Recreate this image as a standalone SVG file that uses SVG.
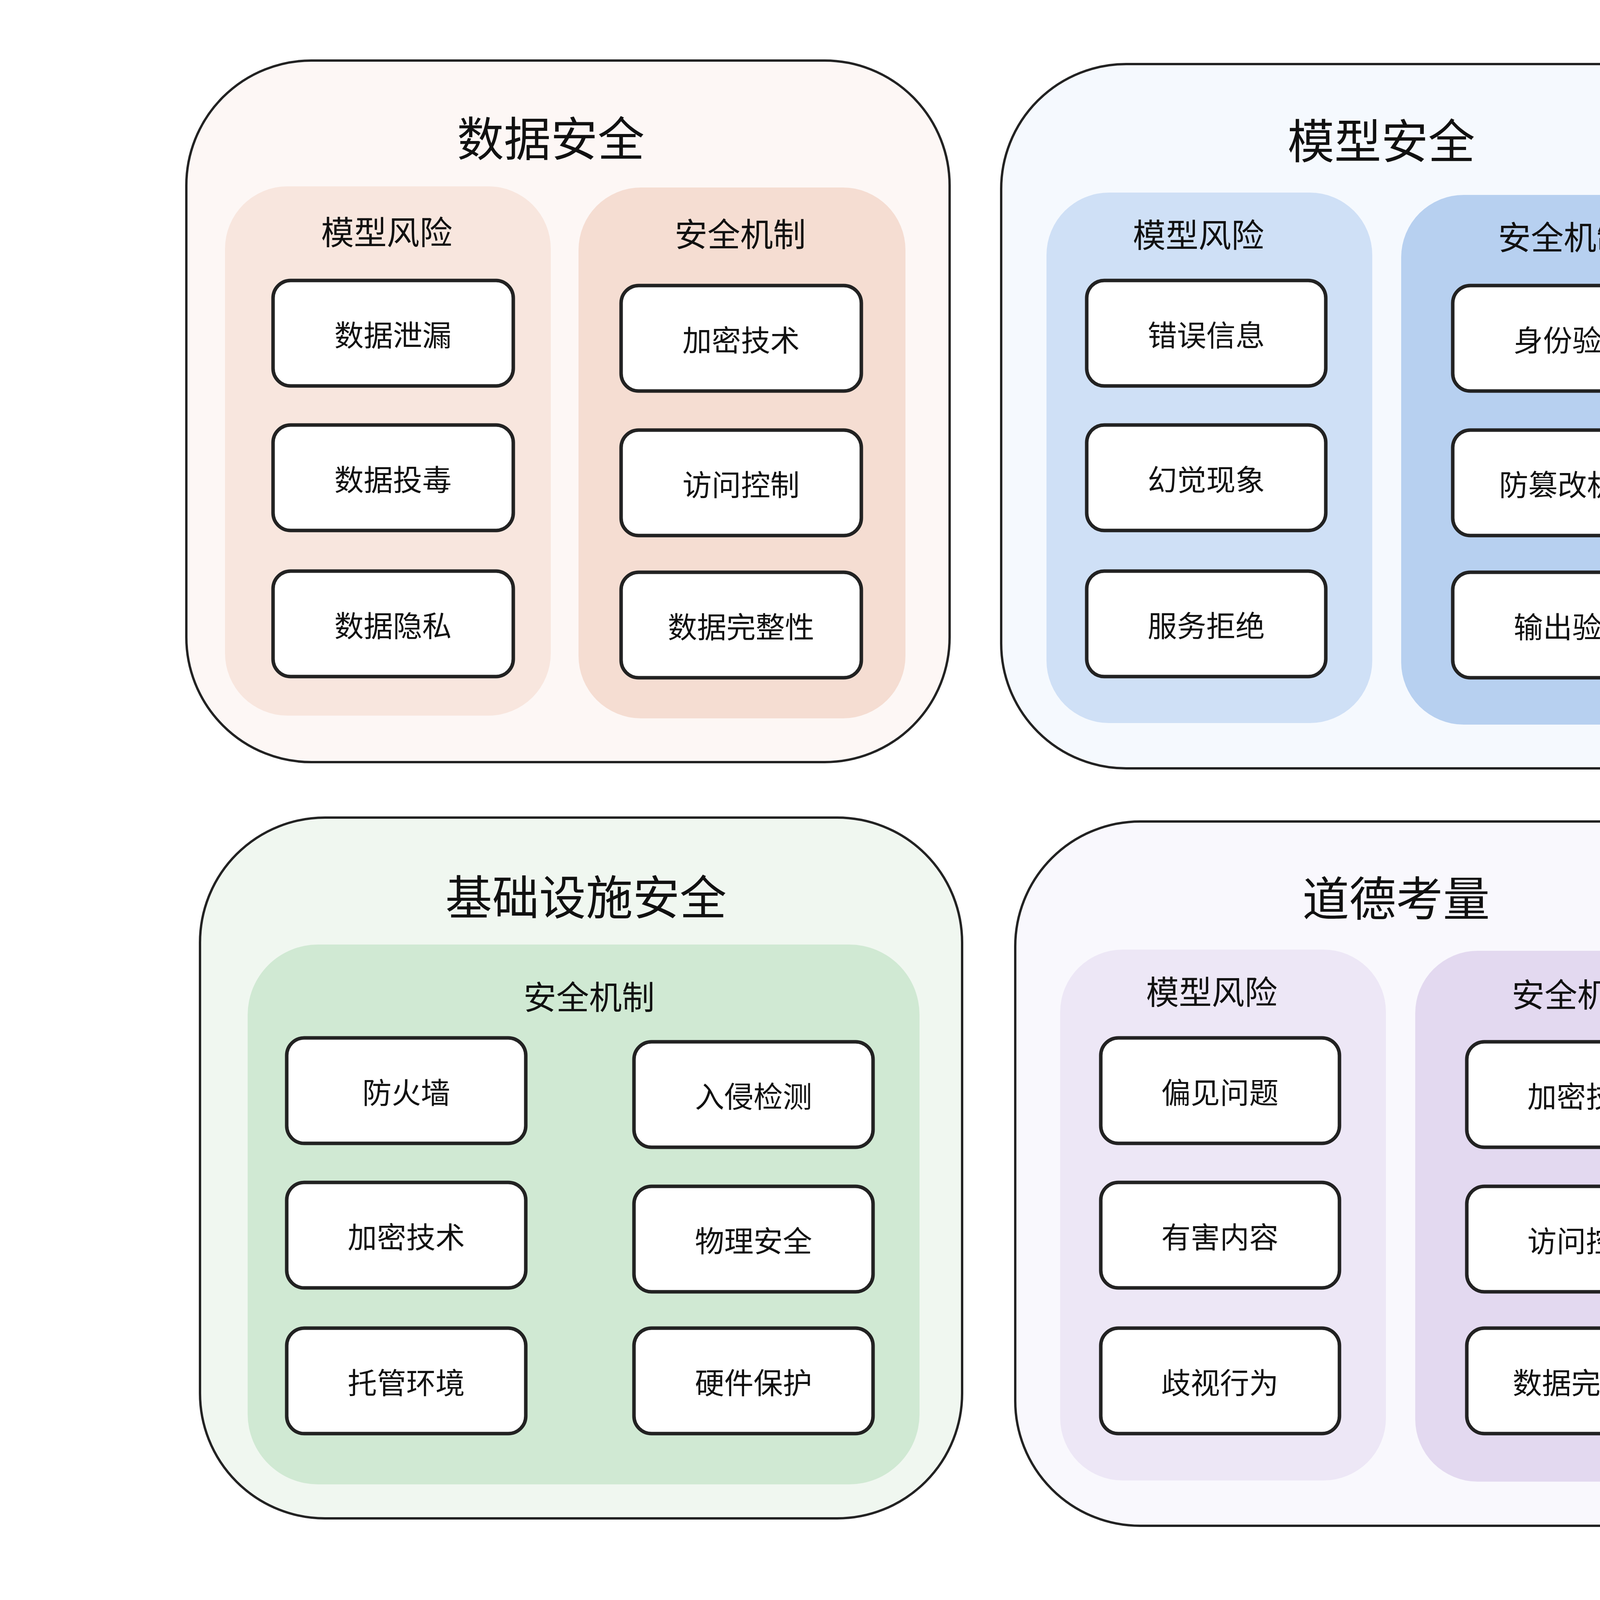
<svg xmlns="http://www.w3.org/2000/svg" width="4997" height="4215" viewBox="0 0 4997 4215">
<style>
.p{stroke:#222;stroke-width:6}
.n{fill:#fff;stroke:#222;stroke-width:9}
text{font-family:"Noto Sans CJK SC","Noto Sans",sans-serif;text-anchor:middle;dominant-baseline:central;fill:#111}
.t{font-size:120px}
.s{font-size:84px}
.l{font-size:75px}
</style>
<rect width="4997" height="4215" fill="#fff"/>
<g id="panel-data">
<rect class="p" x="477" y="155" width="1954" height="1796" rx="320" fill="#fdf7f5"/>
<text class="t" x="1410" y="348">数据安全</text>
<rect x="576" y="477" width="834" height="1355" rx="160" fill="#f8e6de"/>
<text class="s" x="990" y="589">模型风险</text>
<rect x="1481" y="480" width="837" height="1359" rx="160" fill="#f5ddd2"/>
<text class="s" x="1895" y="594">安全机制</text>
</g>
<g id="n1"><rect class="n" x="699" y="718" width="615" height="270" rx="45"/><text class="l" x="1006" y="853">数据泄漏</text></g>
<g id="n2"><rect class="n" x="699" y="1088" width="615" height="270" rx="45"/><text class="l" x="1006" y="1223">数据投毒</text></g>
<g id="n3"><rect class="n" x="699" y="1462" width="615" height="270" rx="45"/><text class="l" x="1006" y="1597">数据隐私</text></g>
<g id="n4"><rect class="n" x="1590" y="731" width="615" height="270" rx="45"/><text class="l" x="1897" y="866">加密技术</text></g>
<g id="n5"><rect class="n" x="1590" y="1101" width="615" height="270" rx="45"/><text class="l" x="1897" y="1236">访问控制</text></g>
<g id="n6"><rect class="n" x="1590" y="1465" width="615" height="270" rx="45"/><text class="l" x="1897" y="1600">数据完整性</text></g>

<g id="panel-model">
<rect class="p" x="2563" y="164" width="1951" height="1803" rx="320" fill="#f5f9fe"/>
<text class="t" x="3536" y="354">模型安全</text>
<rect x="2679" y="493" width="834" height="1358" rx="160" fill="#cfe0f6"/>
<text class="s" x="3068" y="596">模型风险</text>
<rect x="3587" y="499" width="834" height="1356" rx="160" fill="#b7d0f0"/>
<text class="s" x="4003" y="602">安全机制</text>
</g>
<g id="m1"><rect class="n" x="2782" y="718" width="612" height="270" rx="45"/><text class="l" x="3088" y="853">错误信息</text></g>
<g id="m2"><rect class="n" x="2782" y="1088" width="612" height="270" rx="45"/><text class="l" x="3088" y="1223">幻觉现象</text></g>
<g id="m3"><rect class="n" x="2782" y="1462" width="612" height="270" rx="45"/><text class="l" x="3088" y="1597">服务拒绝</text></g>
<g id="m4"><rect class="n" x="3719" y="731" width="612" height="270" rx="45"/><text class="l" x="4025" y="866">身份验证</text></g>
<g id="m5"><rect class="n" x="3719" y="1101" width="612" height="270" rx="45"/><text class="l" x="4025" y="1236">防篡改机制</text></g>
<g id="m6"><rect class="n" x="3719" y="1465" width="612" height="270" rx="45"/><text class="l" x="4025" y="1600">输出验证</text></g>

<g id="panel-infra">
<rect class="p" x="512" y="2093" width="1951" height="1794" rx="320" fill="#f0f7f0"/>
<text class="t" x="1500" y="2290">基础设施安全</text>
<rect x="634" y="2418" width="1720" height="1382" rx="180" fill="#d0e9d3"/>
<text class="s" x="1508" y="2547">安全机制</text>
</g>
<g id="i1"><rect class="n" x="734" y="2657" width="612" height="270" rx="45"/><text class="l" x="1040" y="2792">防火墙</text></g>
<g id="i2"><rect class="n" x="734" y="3027" width="612" height="270" rx="45"/><text class="l" x="1040" y="3162">加密技术</text></g>
<g id="i3"><rect class="n" x="734" y="3400" width="612" height="270" rx="45"/><text class="l" x="1040" y="3535">托管环境</text></g>
<g id="i4"><rect class="n" x="1623" y="2667" width="612" height="270" rx="45"/><text class="l" x="1929" y="2802">入侵检测</text></g>
<g id="i5"><rect class="n" x="1623" y="3037" width="612" height="270" rx="45"/><text class="l" x="1929" y="3172">物理安全</text></g>
<g id="i6"><rect class="n" x="1623" y="3400" width="612" height="270" rx="45"/><text class="l" x="1929" y="3535">硬件保护</text></g>

<g id="panel-ethics">
<rect class="p" x="2599" y="2103" width="1951" height="1803" rx="320" fill="#f9f8fd"/>
<text class="t" x="3574" y="2293">道德考量</text>
<rect x="2714" y="2431" width="834" height="1359" rx="160" fill="#ede7f6"/>
<text class="s" x="3102" y="2534">模型风险</text>
<rect x="3623" y="2434" width="833" height="1359" rx="160" fill="#e3d9f0"/>
<text class="s" x="4038" y="2541">安全机制</text>
</g>
<g id="e1"><rect class="n" x="2818" y="2657" width="611" height="270" rx="45"/><text class="l" x="3123" y="2792">偏见问题</text></g>
<g id="e2"><rect class="n" x="2818" y="3027" width="611" height="270" rx="45"/><text class="l" x="3123" y="3162">有害内容</text></g>
<g id="e3"><rect class="n" x="2818" y="3400" width="611" height="270" rx="45"/><text class="l" x="3123" y="3535">歧视行为</text></g>
<g id="e4"><rect class="n" x="3755" y="2667" width="611" height="270" rx="45"/><text class="l" x="4060" y="2802">加密技术</text></g>
<g id="e5"><rect class="n" x="3755" y="3037" width="611" height="270" rx="45"/><text class="l" x="4060" y="3172">访问控制</text></g>
<g id="e6"><rect class="n" x="3755" y="3400" width="611" height="270" rx="45"/><text class="l" x="4060" y="3535">数据完整性</text></g>
<g id="connectors"/>
</svg>
